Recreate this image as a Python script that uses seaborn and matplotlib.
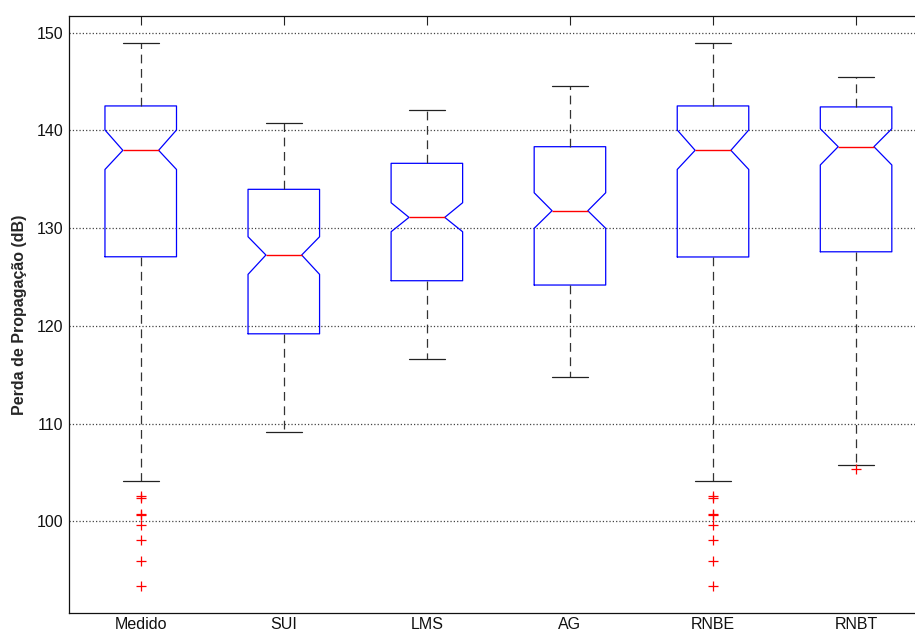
import numpy as np
import matplotlib
matplotlib.use('Agg')
import matplotlib.pyplot as plt
import seaborn as sns

sns.set_style('white')
plt.rcParams['font.family'] = ['Liberation Sans', 'DejaVu Sans']

# values (dB)
labels = ['Medido', 'SUI', 'LMS', 'AG', 'RNBE', 'RNBT']
med = [137.96, 127.25, 131.10, 131.78, 137.96, 138.33]
q1 = [127.07, 119.19, 124.62, 124.18, 127.05, 127.58]
q3 = [142.50, 133.97, 136.63, 138.33, 142.50, 142.40]
whis_lo = [104.18, 109.13, 116.63, 114.76, 104.15, 105.82]
whis_hi = [148.95, 140.73, 142.09, 144.58, 148.95, 145.50]
notch_lo = [136.00, 125.27, 129.63, 129.98, 136.00, 136.46]
notch_hi = [140.04, 129.12, 132.60, 133.62, 140.04, 140.17]
out_medido = [102.56, 102.43, 100.80, 100.66, 99.68, 98.07, 95.96, 93.40]
out_rnbe = [102.56, 102.43, 100.80, 100.66, 99.68, 98.07, 95.96, 93.40]
out_rnbt = [105.35]
fliers = [out_medido, [], [], [], out_rnbe, out_rnbt]

stats = []
for i in range(len(labels)):
    stats.append(dict(label=labels[i], med=med[i], q1=q1[i], q3=q3[i],
                      whislo=whis_lo[i], whishi=whis_hi[i],
                      cilo=notch_lo[i], cihi=notch_hi[i],
                      fliers=np.array(fliers[i])))

fig = plt.figure(figsize=(9.15, 6.33), dpi=100)
ax = fig.add_axes([69.2 / 915, 19.7 / 633, 858.4 / 915, 597.3 / 633])

ax.bxp(stats, positions=np.arange(1, 7), widths=0.5, capwidths=0.25,
       shownotches=True, patch_artist=False,
       boxprops=dict(color='#0000ff', linewidth=0.9),
       medianprops=dict(color='#ff0000', linewidth=1.0),
       whiskerprops=dict(color='#333333', linewidth=0.9, linestyle=(0, (7, 4.5))),
       capprops=dict(color='#222222', linewidth=0.9),
       flierprops=dict(marker='+', markeredgecolor='#ff0000', markersize=7,
                       markeredgewidth=0.9, linestyle='none'))

ax.set_xlim(0.5, 6.5)
ax.set_ylim(90.6, 151.7)
ax.set_yticks([100, 110, 120, 130, 140, 150])
ax.set_xticks(np.arange(1, 7))
ax.set_xticklabels(labels)

ax.yaxis.grid(True, linestyle=':', color='#444444', linewidth=0.9)
ax.xaxis.grid(False)
ax.set_axisbelow(True)

ax.tick_params(axis='both', direction='in', length=6.5, width=0.8, color='#222222',
               labelsize=11.5, labelcolor='#111111', top=True, right=True)
ax.tick_params(axis='x', pad=2.5)
ax.tick_params(axis='y', pad=4)

for s in ax.spines.values():
    s.set_color('#111111')
    s.set_linewidth(0.9)

ax.set_ylabel('Perda de Propagação (dB)', fontsize=11.5, fontweight='bold', labelpad=7)

fig.savefig('out.png', dpi=100)
